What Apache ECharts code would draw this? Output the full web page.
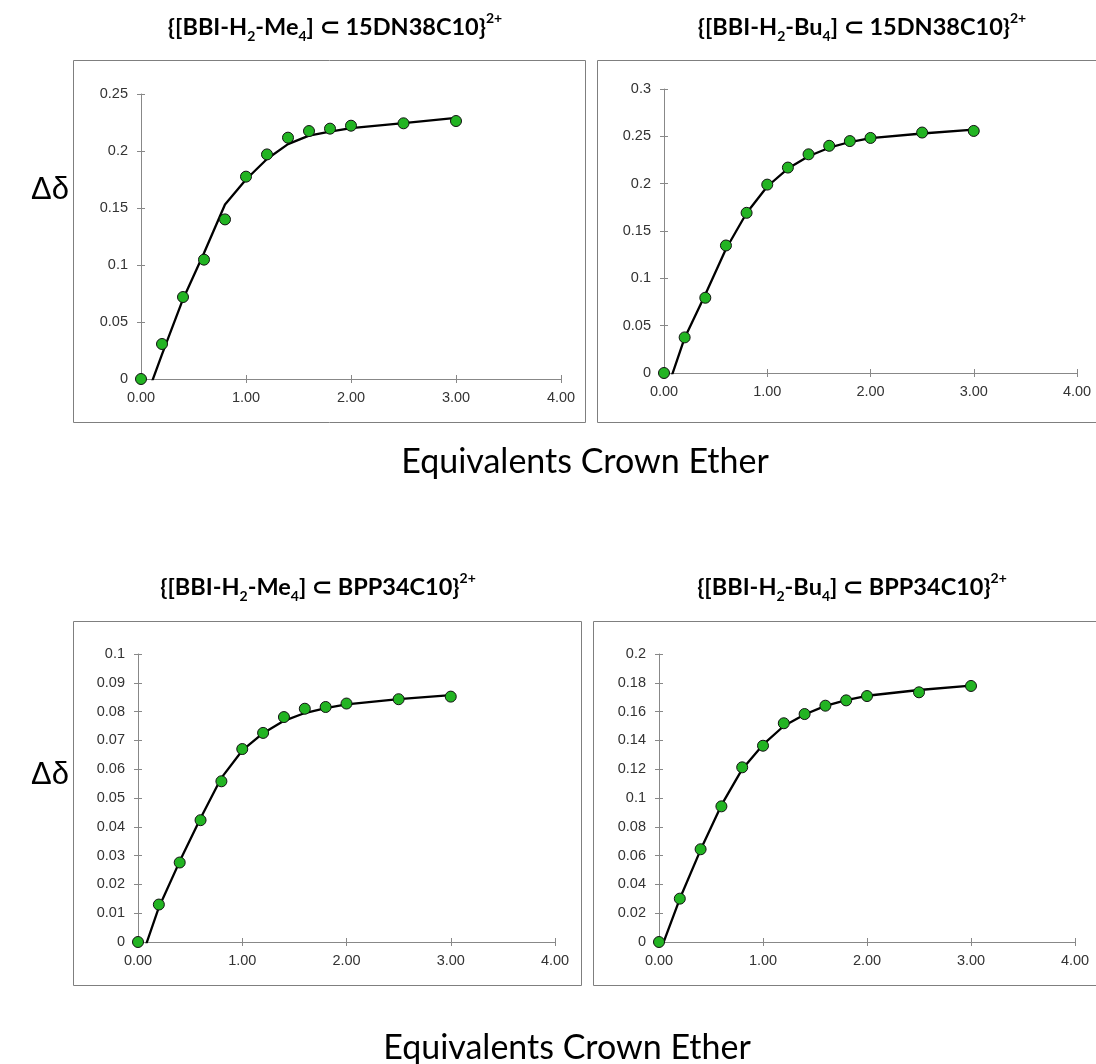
<!DOCTYPE html>
<html>
<head>
<meta charset="utf-8">
<script src="https://cdn.jsdelivr.net/npm/echarts@6/dist/echarts.min.js"></script>
<style>
  html, body { margin: 0; padding: 0; background: #fff; }
  #chart { width: 1096px; height: 1064px; }
</style>
</head>
<body>
<div id="chart"></div>
<script>
// equivalents of crown ether added (same for every titration)
const eqX = [0, 0.2, 0.4, 0.6, 0.8, 1.0, 1.2, 1.4, 1.6, 1.8, 2.0, 2.5, 3.0];

// observed shifts
const me4Dn38Obs = [0, 0.0307, 0.0719, 0.1047, 0.140, 0.1775, 0.197, 0.2117, 0.2175, 0.2196, 0.2222, 0.2243, 0.2263];
const bu4Dn38Obs = [0, 0.0376, 0.0795, 0.1347, 0.1692, 0.199, 0.217, 0.231, 0.240, 0.245, 0.2483, 0.254, 0.2557];
const me4BppObs = [0, 0.0130, 0.0276, 0.0423, 0.0558, 0.0670, 0.0726, 0.0781, 0.0810, 0.0816, 0.0828, 0.0843, 0.0852];
const bu4BppObs = [0, 0.0301, 0.0644, 0.0942, 0.1213, 0.1363, 0.1519, 0.1583, 0.1641, 0.1678, 0.1708, 0.1734, 0.1778];

// fitted curves (first value lies below the axis and gets clipped)
const me4Dn38Fit = [-0.0286, 0.0216, 0.070, 0.1105, 0.153, 0.175, 0.193, 0.206, 0.2135, 0.217, 0.220, 0.2245, 0.229];
const bu4Dn38Fit = [-0.027, 0.037, 0.083, 0.131, 0.169, 0.197, 0.216, 0.229, 0.238, 0.244, 0.248, 0.253, 0.257];
const me4BppFit = [-0.009, 0.012, 0.028, 0.043, 0.057, 0.0665, 0.0725, 0.0768, 0.0795, 0.0812, 0.0825, 0.0843, 0.0857];
const bu4BppFit = [-0.0087, 0.030, 0.064, 0.095, 0.120, 0.137, 0.150, 0.158, 0.164, 0.168, 0.171, 0.175, 0.178];

const yMax = [0.25, 0.3, 0.1, 0.2];
const yStep = [0.05, 0.05, 0.01, 0.02];

const panels = [
  { obs: me4Dn38Obs, fit: me4Dn38Fit, guest: 'Me', host: '15DN38C10' },
  { obs: bu4Dn38Obs, fit: bu4Dn38Fit, guest: 'Bu', host: '15DN38C10' },
  { obs: me4BppObs, fit: me4BppFit, guest: 'Me', host: 'BPP34C10' },
  { obs: bu4BppObs, fit: bu4BppFit, guest: 'Bu', host: 'BPP34C10' }
];

// layout (pixels)
const grids = [
  { left: 141, top: 94, width: 420, height: 285 },
  { left: 664, top: 89, width: 413, height: 284 },
  { left: 138, top: 654, width: 417, height: 288 },
  { left: 659, top: 654, width: 416, height: 288 }
];
const boxes = [
  [73, 60, 512, 362], [597, 60, 510, 362],
  [73, 621, 508, 364], [593, 621, 514, 364]
];
const titlePos = [[335, 27], [862, 27], [318, 587], [852, 587]];

const labelFont = { fontFamily: 'Liberation Sans', fontSize: 14.5, color: '#333' };
const axisGray = '#888';

const chart = echarts.init(document.getElementById('chart'));

const xAxis = [], yAxis = [], series = [], graphic = [];

panels.forEach((p, i) => {
  xAxis.push({
    type: 'value', gridIndex: i, min: 0, max: 4, interval: 1, position: 'bottom',
    axisLine: { lineStyle: { color: axisGray, width: 1 } },
    axisTick: { length: 4, lineStyle: { color: axisGray } },
    axisLabel: Object.assign({ margin: 11, formatter: v => v.toFixed(2) }, labelFont),
    splitLine: { show: false }
  }, {
    type: 'value', gridIndex: i, min: 0, max: 4, interval: 1, position: 'bottom',
    axisLine: { show: false },
    axisTick: { inside: true, length: 4, lineStyle: { color: axisGray } },
    axisLabel: { show: false },
    splitLine: { show: false }
  });
  yAxis.push({
    type: 'value', gridIndex: i, min: 0, max: yMax[i], interval: yStep[i], position: 'left',
    axisLine: { show: true, lineStyle: { color: axisGray, width: 1 } },
    axisTick: { show: true, length: 4, lineStyle: { color: axisGray } },
    axisLabel: Object.assign({ margin: 13 }, labelFont),
    splitLine: { show: false }
  }, {
    type: 'value', gridIndex: i, min: 0, max: yMax[i], interval: yStep[i], position: 'left',
    axisLine: { show: false },
    axisTick: { show: true, inside: true, length: 4, lineStyle: { color: axisGray } },
    axisLabel: { show: false },
    splitLine: { show: false }
  });

  series.push({
    type: 'line', xAxisIndex: 2 * i, yAxisIndex: 2 * i,
    data: eqX.map((x, k) => [x, p.fit[k]]),
    showSymbol: false, clip: true, silent: true,
    lineStyle: { color: '#000', width: 2.3 }, z: 2
  }, {
    type: 'scatter', xAxisIndex: 2 * i, yAxisIndex: 2 * i,
    data: eqX.map((x, k) => [x, p.obs[k]]),
    symbolSize: 11,
    itemStyle: { color: '#22b422', borderColor: '#111', borderWidth: 1, opacity: 1 },
    z: 3
  });

  const b = boxes[i];
  graphic.push({
    type: 'rect', shape: { x: b[0] + 0.5, y: b[1] + 0.5, width: b[2], height: b[3] },
    style: { fill: 'none', stroke: '#7f7f7f', lineWidth: 1 }, z: -1
  });

  graphic.push({
    type: 'text', x: titlePos[i][0], y: titlePos[i][1],
    style: {
      text: '{[BBI-H{s|2}-' + p.guest + '{s|4}] \u2282 ' + p.host + '}{p|2+}',
      align: 'center', verticalAlign: 'middle',
      fontFamily: 'Lato', fontWeight: 'bold', fontSize: 23.5, lineHeight: 32, fill: '#000',
      rich: {
        s: { fontFamily: 'Lato', fontWeight: 'bold', fontSize: 14, lineHeight: 13, verticalAlign: 'bottom', fill: '#000' },
        p: { fontFamily: 'Lato', fontWeight: 'bold', fontSize: 14, lineHeight: 15, verticalAlign: 'top', fill: '#000' }
      }
    }
  });
});

[190, 775].forEach(y => graphic.push({
  type: 'text', x: 50, y: y,
  style: { text: '\u0394\u03b4', align: 'center', verticalAlign: 'middle', fontFamily: 'Liberation Sans', fontSize: 31, fill: '#000' }
}));
[[585, 462], [567, 1048]].forEach(c => graphic.push({
  type: 'text', x: c[0], y: c[1],
  style: { text: 'Equivalents Crown Ether', align: 'center', verticalAlign: 'middle', fontFamily: 'Lato', fontSize: 34, fill: '#000' }
}));

chart.setOption({
  animation: false,
  backgroundColor: '#fff',
  grid: grids,
  xAxis: xAxis,
  yAxis: yAxis,
  series: series,
  graphic: graphic
});
</script>
</body>
</html>
